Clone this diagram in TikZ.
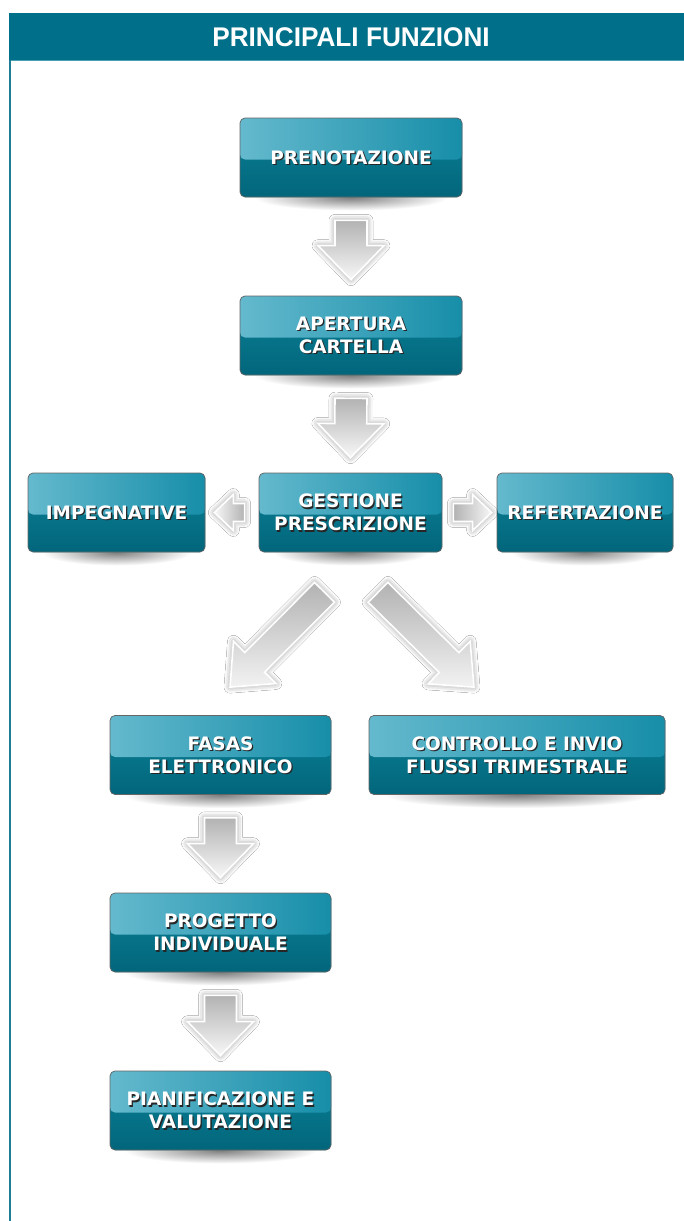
\documentclass[tikz,border=0pt]{standalone}
\usepackage{fontspec}
\setmainfont{DejaVu Sans}
\newfontfamily\hdrfont{Liberation Sans}
\usetikzlibrary{calc,shadows.blur}
\definecolor{hdr}{HTML}{00708A}
\definecolor{hdrline}{HTML}{4A9FB3}
\definecolor{leftline}{HTML}{1F7D98}
\definecolor{boxTL}{HTML}{64B9CD}
\definecolor{boxTR}{HTML}{178EA9}
\definecolor{boxlowtop}{HTML}{0B8299}
\definecolor{boxlowbot}{HTML}{02667B}
\tikzset{
  boxfont/.style={font=\bfseries\fontsize{18.5}{23}\selectfont, align=center},
  fbox/.style={rectangle, rounded corners=5pt, minimum height=79pt, inner sep=0pt,
    draw=black!60, line width=0.7pt, fill=boxlowbot, text=white, boxfont,
    path picture={
      \shade[top color=boxlowtop, bottom color=boxlowbot]
        (path picture bounding box.south west) rectangle (path picture bounding box.north east);
      \shade[left color=boxTL, right color=boxTR]
        (path picture bounding box.north west) rectangle ($(path picture bounding box.east)+(0,2)$);
      \node[boxfont, text=black!85, inner sep=0pt] at ($(path picture bounding box.center)+(1.3,1.3)$) {#1};
    }},
  arrowst/.style={draw=white, line width=1.6pt, line join=miter,
    blur shadow={shadow xshift=0pt, shadow yshift=0pt, shadow blur radius=6pt, shadow opacity=45}},
}
\newcommand\mybox[5]{%
  \shade[inner color=black!50, outer color=white] (#2,#3+40) ellipse [x radius={(#4/2-14)*1pt}, y radius=13pt];
  \node[fbox={#5}, minimum width=#4pt] (#1) at (#2,#3) {#5};}
\newcommand\blockarr[6]{%
  \coordinate (bac) at ($(#2)!#5!(#1)$);
  \path[arrowst,#6] ($(#1)!#3!90:(#2)$) -- ($(bac)!#3!90:(#2)$) -- ($(bac)!#4!90:(#2)$) -- (#2)
    -- ($(bac)!#4!-90:(#2)$) -- ($(bac)!#3!-90:(#2)$) -- ($(#1)!#3!-90:(#2)$) -- cycle;}
\begin{document}
\begin{tikzpicture}[x=1pt,y=-1pt]
\useasboundingbox (0,0) rectangle (684,1221);
\fill[white] (0,0) rectangle (684,1221);
% header
\fill[hdr] (9,13) rectangle (684,60);
\draw[hdrline, line width=0.8pt] (11,60) -- (684,60);
\node[font=\hdrfont\bfseries\fontsize{27}{30}\selectfont, text=white, xscale=0.97] (title) at (351,37.5) {PRINCIPALI FUNZIONI};
\draw[leftline, line width=2pt] (10,60) -- (10,1221);
% boxes
\mybox{pren}{351}{157.5}{222}{PRENOTAZIONE}
\mybox{aper}{351}{335.5}{222}{APERTURA\\CARTELLA}
\mybox{gest}{350.5}{512.5}{183}{GESTIONE\\PRESCRIZIONE}
\mybox{impeg}{116.5}{512.5}{177}{IMPEGNATIVE}
\mybox{refe}{585}{512.5}{176}{REFERTAZIONE}
\mybox{fasas}{220.5}{755}{221}{FASAS\\ELETTRONICO}
\mybox{contr}{517}{755}{296}{CONTROLLO E INVIO\\FLUSSI TRIMESTRALE}
\mybox{prog}{220.5}{932.5}{221}{PROGETTO\\INDIVIDUALE}
\mybox{pian}{220.5}{1110.5}{221}{PIANIFICAZIONE E\\VALUTAZIONE}
% arrows
\coordinate (a1t) at ($(pren.south)+(0,23)$);
\coordinate (a1h) at ($(aper.north)+(0,-16)$);
\blockarr{a1t}{a1h}{16pt}{33pt}{34pt}{top color=black!30, bottom color=black!3}
\coordinate (a2t) at ($(aper.south)+(0,23)$);
\coordinate (a2h) at ($(gest.north)+(0,-15)$);
\blockarr{a2t}{a2h}{16pt}{33pt}{34pt}{top color=black!30, bottom color=black!3}
\coordinate (alt) at ($(gest.west)+(-14,0)$);
\coordinate (alh) at ($(impeg.east)+(9,0)$);
\blockarr{alt}{alh}{9pt}{18pt}{19pt}{right color=black!30, left color=black!3}
\coordinate (art) at ($(gest.east)+(11,0)$);
\coordinate (arh) at ($(refe.west)+(-5,0)$);
\blockarr{art}{arh}{9pt}{18pt}{19pt}{left color=black!30, right color=black!3}
\coordinate (adlt) at ($(gest.south)+(-26,40)$);
\coordinate (adlh) at ($(fasas.north)+(9.5,-28)$);
\blockarr{adlt}{adlh}{14pt}{30pt}{35pt}{shading=axis, shading angle=-45, top color=black!30, bottom color=black!5}
\coordinate (adrt) at ($(gest.south)+(27.5,40)$);
\coordinate (adrh) at ($(contr.north)+(-43,-28)$);
\blockarr{adrt}{adrh}{14pt}{30pt}{35pt}{shading=axis, shading angle=45, top color=black!30, bottom color=black!5}
\coordinate (a5t) at ($(fasas.south)+(0,23)$);
\coordinate (a5h) at ($(prog.north)+(0,-15)$);
\blockarr{a5t}{a5h}{16pt}{33pt}{34pt}{top color=black!30, bottom color=black!3}
\coordinate (a6t) at ($(prog.south)+(0,23)$);
\coordinate (a6h) at ($(pian.north)+(0,-15)$);
\blockarr{a6t}{a6h}{16pt}{33pt}{34pt}{top color=black!30, bottom color=black!3}
\end{tikzpicture}
\end{document}
